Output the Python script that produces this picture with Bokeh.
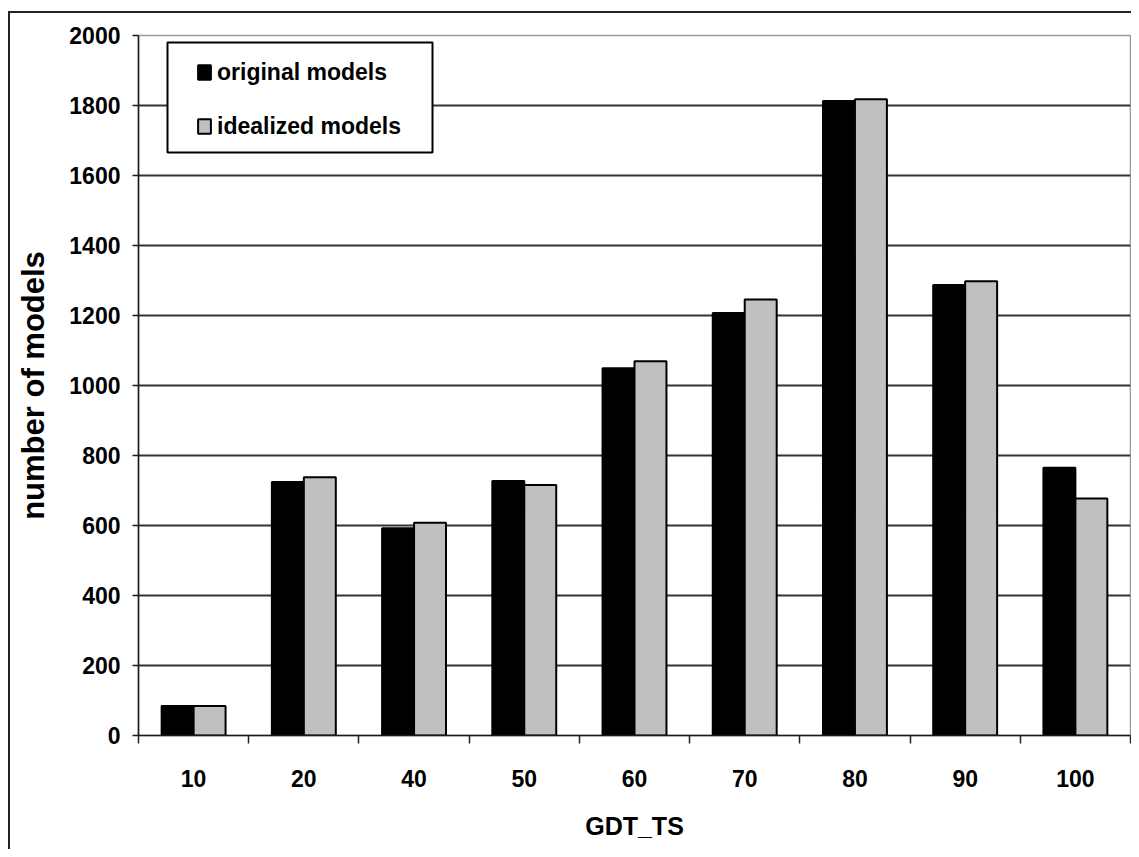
from bokeh.plotting import figure
from bokeh.models import ColumnDataSource, FixedTicker, Legend, LegendItem, BoxAnnotation
from bokeh.transform import dodge
from bokeh.embed import file_html
from bokeh.resources import INLINE

# ---- data ----
categories = ["10", "20", "40", "50", "60", "70", "80", "90", "100"]
original_models = [84, 724, 592, 727, 1049, 1207, 1813, 1287, 765]
idealized_models = [84, 738, 608, 716, 1069, 1246, 1818, 1298, 677]
y_ticks = [0, 200, 400, 600, 800, 1000, 1200, 1400, 1600, 1800, 2000]
series_labels = ["original models", "idealized models"]

positions = list(range(1, len(categories) + 1))
source = ColumnDataSource(dict(pos=positions, cat=categories,
                               orig=original_models, ideal=idealized_models))

FONT = "Liberation Sans"

p = figure(width=1131, height=849,
           x_range=(0.5, len(categories) + 0.5), y_range=(0, 2000),
           output_backend="svg", toolbar_location=None,
           min_border_left=138, min_border_right=1,
           min_border_top=35, min_border_bottom=114)

p.border_fill_color = None
p.background_fill_color = "white"
p.outline_line_color = "#9a9a9a"
p.outline_line_width = 1.5
p.styles = {"box-shadow": ("inset 8px 0 0 #fff, inset 0 11px 0 #fff, "
                           "inset 10px 0 0 #222, inset 0 13px 0 #222")}

r1 = p.vbar(x=dodge("pos", -0.145, range=p.x_range), top="orig", width=0.29,
            fill_color="black", line_color="black", line_width=2, source=source)
r2 = p.vbar(x=dodge("pos", 0.145, range=p.x_range), top="ideal", width=0.29,
            fill_color="#c0c0c0", line_color="black", line_width=2, source=source)

# x axis
p.xaxis.ticker = FixedTicker(ticks=positions,
                             minor_ticks=[x - 0.5 for x in positions] + [positions[-1] + 0.5])
p.xaxis.major_label_overrides = {x: c for x, c in zip(positions, categories)}
p.xaxis.major_tick_out = 0
p.xaxis.major_tick_in = 0
p.xaxis.minor_tick_out = 8
p.xaxis.minor_tick_in = 0
p.xaxis.minor_tick_line_color = "#222"
p.xaxis.minor_tick_line_width = 1.5
p.xaxis.major_label_standoff = 26
p.xaxis.axis_label = "GDT_TS"
p.xaxis.axis_label_standoff = 22
p.xaxis.axis_label_text_font = FONT
p.xaxis.axis_label_text_font_size = "25px"
p.xaxis.axis_label_text_font_style = "bold"
p.xgrid.visible = False

# y axis
p.yaxis.ticker = FixedTicker(ticks=y_ticks)
p.yaxis.major_tick_out = 6
p.yaxis.major_tick_in = 0
p.yaxis.minor_tick_line_color = None
p.yaxis.major_label_standoff = 12
p.yaxis.axis_label = "number of models"
p.yaxis.axis_label_standoff = 15
p.yaxis.axis_label_text_font = FONT
p.yaxis.axis_label_text_font_size = "31px"
p.yaxis.axis_label_text_font_style = "bold"

for ax in (p.xaxis, p.yaxis):
    ax.axis_line_color = "#1a1a1a"
    ax.axis_line_width = 1.5
    ax.major_tick_line_color = "#1a1a1a"
    ax.major_tick_line_width = 1.5
    ax.major_label_text_font = FONT
    ax.major_label_text_font_size = "23px"
    ax.major_label_text_font_style = "bold"
    ax.major_label_text_color = "black"
    ax.axis_label_text_color = "black"

p.ygrid.grid_line_color = "#333333"
p.ygrid.grid_line_width = 2

# legend box
box = BoxAnnotation(left=167, right=432, top=42, bottom=152,
                    left_units="canvas", right_units="canvas",
                    top_units="canvas", bottom_units="canvas",
                    fill_color="white", fill_alpha=1.0,
                    line_color="black", line_width=2, line_alpha=1.0)
p.add_layout(box)

legend = Legend(items=[LegendItem(label=series_labels[0], renderers=[r1]),
                       LegendItem(label=series_labels[1], renderers=[r2])],
                location=(58, 593), padding=0, margin=0,
                border_line_color=None, background_fill_alpha=0,
                glyph_width=16, glyph_height=18, label_standoff=5,
                label_height=32, spacing=22,
                label_text_font=FONT, label_text_font_size="23px",
                label_text_font_style="bold", label_text_color="black")
p.add_layout(legend)

open("out.html", "w").write(file_html(p, INLINE))
